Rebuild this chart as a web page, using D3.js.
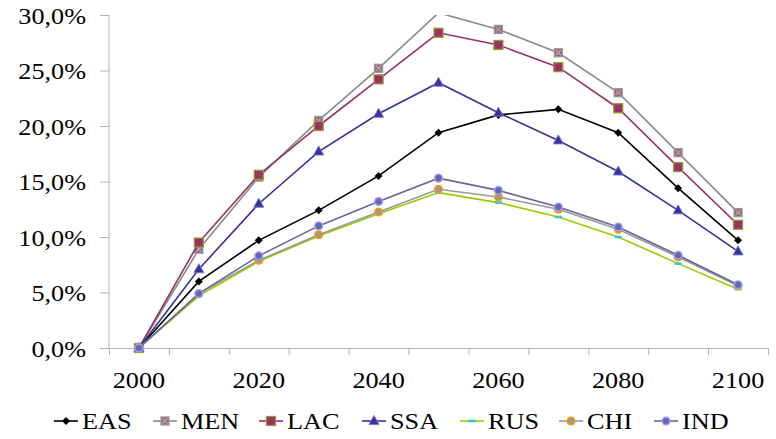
<!DOCTYPE html>
<html><head><meta charset="utf-8">
<script src="https://cdn.jsdelivr.net/npm/d3@7"></script>
<style>body{margin:0;background:#fff}svg{display:block}text{font-family:"Liberation Serif","Times New Roman",serif;fill:#000}</style>
</head><body><svg id="c" width="776" height="439"></svg>
<script>
const years = [2000,2010,2020,2030,2040,2050,2060,2070,2080,2090,2100];
const yTicks = [0,5,10,15,20,25,30];
const xLabels = [2000,2020,2040,2060,2080,2100];
const seriesNames = ["EAS","MEN","LAC","SSA","RUS","CHI","IND"];
const EAS = [0,6.0,9.7,12.4,15.5,19.4,21.0,21.5,19.4,14.4,9.7];
const MEN = [0,8.9,15.4,20.5,25.2,30.2,28.7,26.6,23.0,17.6,12.2];
const LAC = [0,9.5,15.6,20.0,24.2,28.4,27.3,25.3,21.6,16.3,11.1];
const SSA = [0,7.1,13.0,17.7,21.1,23.9,21.2,18.7,15.9,12.4,8.7];
const RUS = [0,4.7,7.8,10.1,12.1,14.0,13.1,11.8,10.0,7.6,5.3];
const CHI = [0,4.9,7.9,10.2,12.25,14.3,13.6,12.5,10.7,8.2,5.6];
const IND = [0,4.9,8.3,11.0,13.2,15.3,14.2,12.7,10.9,8.35,5.7];
const values = {EAS,MEN,LAC,SSA,RUS,CHI,IND};

const style = {
  EAS:{line:"#000000", shape:"diamond", fill:"#000000", stroke:"#000000", size:8},
  MEN:{line:"#8a8a8a", shape:"squarex", fill:"#a0607f", stroke:"#999999", size:8},
  LAC:{line:"#993366", shape:"square", fill:"#993366", stroke:"#999933", size:9},
  SSA:{line:"#333399", shape:"triangle", fill:"#333399", stroke:"#7777cc", size:9},
  RUS:{line:"#99cc00", shape:"dash", fill:"#33cccc", stroke:"#33cccc", size:7},
  CHI:{line:"#999999", shape:"circle", fill:"#999999", stroke:"#ff9900", size:9},
  IND:{line:"#666699", shape:"circle", fill:"#6666aa", stroke:"#9999ff", size:9}
};

const svg = d3.select("#c");
const L=109, R=768, T=15, B=348;
const SX = 1.14, FS = 23;
const x = d3.scaleBand().domain(years).range([L,R]).padding(0);
const xEdge = d3.scaleLinear().domain([0,years.length]).range([L,R]);
const y = d3.scaleLinear().domain([0,30]).range([B,T]);
const cx = d => x(d) + x.bandwidth()/2;

svg.append("defs").append("clipPath").attr("id","plot")
  .append("rect").attr("x",L).attr("y",T).attr("width",R-L).attr("height",B-T+6);

// y axis
const ya = svg.append("g").attr("transform",`translate(${L},0)`)
  .call(d3.axisLeft(y).tickValues(yTicks).tickSize(9).tickFormat(d=>d3.format(".1f")(d).replace(".",",")+"%"));
ya.select(".domain").attr("stroke","#b4b4b4").attr("d",`M-0.5,${T}V${B}`).attr("transform","translate(0.5,0)");
ya.selectAll(".tick line").attr("stroke","#b4b4b4");
ya.selectAll(".tick text").attr("x",null).attr("dy",null)
  .attr("font-size",FS).attr("font-family","Liberation Serif").attr("text-anchor","end")
  .attr("transform",`translate(-23,8) scale(${SX},1)`);

// x axis ticks
const xa = svg.append("g").attr("transform",`translate(0,${B})`)
  .call(d3.axisBottom(xEdge).tickValues(d3.range(years.length+1)).tickSize(7).tickFormat(""));
xa.select(".domain").attr("stroke","#b4b4b4").attr("d",`M${L},0.5H${R}`);
xa.selectAll(".tick line").attr("stroke","#b4b4b4");
svg.append("g").selectAll("text").data(xLabels).join("text")
  .attr("font-size",FS).attr("text-anchor","middle")
  .attr("transform",d=>`translate(${cx(d)},388) scale(${SX},1)`).text(d=>d);

function marker(g, name, px, py){
  const s = style[name], h = s.size/2;
  if(s.shape==="diamond"){
    g.append("path").attr("d",`M${px},${py-h}L${px+h},${py}L${px},${py+h}L${px-h},${py}Z`).attr("fill",s.fill);
  } else if(s.shape==="square"||s.shape==="squarex"){
    g.append("rect").attr("x",px-h).attr("y",py-h).attr("width",s.size).attr("height",s.size)
      .attr("fill",s.fill).attr("stroke",s.stroke).attr("stroke-width",1.3);
    if(s.shape==="squarex"){
      g.append("path").attr("d",`M${px-h+1.5},${py-h+1.5}L${px+h-1.5},${py+h-1.5}M${px+h-1.5},${py-h+1.5}L${px-h+1.5},${py+h-1.5}`)
        .attr("stroke","#aaaaaa").attr("stroke-width",1.2);
    }
  } else if(s.shape==="triangle"){
    g.append("path").attr("d",`M${px},${py-h-1}L${px+h+0.5},${py+h-1}L${px-h-0.5},${py+h-1}Z`)
      .attr("fill",s.fill).attr("stroke",s.stroke).attr("stroke-width",1);
  } else if(s.shape==="dash"){
    g.append("rect").attr("x",px-h).attr("y",py-1.3).attr("width",s.size).attr("height",2.6).attr("fill",s.fill);
  } else if(s.shape==="circle"){
    g.append("circle").attr("cx",px).attr("cy",py).attr("r",h-0.7)
      .attr("fill",s.fill).attr("stroke",s.stroke).attr("stroke-width",1.5);
  }
}

const line = d3.line().x((d,i)=>cx(years[i])).y(d=>y(d));
seriesNames.forEach(name=>{
  const g = svg.append("g");
  g.append("path").datum(values[name]).attr("d",line).attr("fill","none")
    .attr("clip-path","url(#plot)")
    .attr("stroke",style[name].line).attr("stroke-width",1.6);
  values[name].forEach((v,i)=>{ if(v<=30) marker(g,name,cx(years[i]),y(v)); });
});

// legend
const legX = [82,181,287,390,488,587,682];
const lg = svg.append("g");
seriesNames.forEach((name,i)=>{
  const tx = legX[i], mc = tx-16, my = 421;
  lg.append("line").attr("x1",mc-12).attr("x2",mc+12).attr("y1",my).attr("y2",my)
    .attr("stroke",style[name].line).attr("stroke-width",1.6);
  marker(lg,name,mc,my);
  lg.append("text").attr("font-size",FS).attr("transform",`translate(${tx},429) scale(${SX},1)`).text(name);
});
</script></body></html>
